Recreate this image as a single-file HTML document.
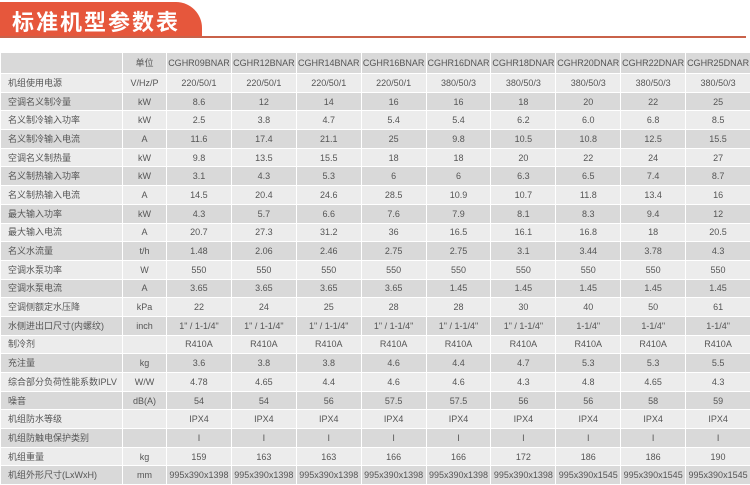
<!DOCTYPE html>
<html><head><meta charset="utf-8"><style>
body{margin:0;width:750px;height:485px;background:#fff;overflow:hidden;position:relative;font-family:"Liberation Sans","Noto Sans CJK SC",sans-serif;}
.ban{position:absolute;left:0;top:2px;width:202px;height:35px;background:#e6573c;border-top-right-radius:26px;}
.ban span{position:absolute;left:12px;top:3px;color:#fff;font-size:22px;font-weight:bold;letter-spacing:2px;font-family:"Noto Sans CJK SC",sans-serif;}
.line{position:absolute;left:0;top:36px;width:746px;height:2px;background:#c9624a;}
table{position:absolute;left:0;top:52px;width:750px;border-collapse:collapse;table-layout:fixed;}
tr{height:18.7px;}
tr.h{height:21px;}
td{border:1px solid #fff;font-size:9px;line-height:10px;color:#555;text-align:center;padding:0;white-space:nowrap;overflow:hidden;box-sizing:border-box;}
td:first-child{text-align:left;padding-left:7px;}
tr.h td{background:#d6d6d6;}
tr:nth-child(even) td{background:#ececec;}
tr:nth-child(odd) td{background:#d9d9d9;}
</style></head><body>
<div class="ban"><span>标准机型参数表</span></div>
<div class="line"></div>
<table>
<colgroup><col style="width:122px"><col style="width:44px"><col span="9" style="width:64.9px"></colgroup>
<tr class="h"><td></td><td>单位</td><td>CGHR09BNAR</td><td>CGHR12BNAR</td><td>CGHR14BNAR</td><td>CGHR16BNAR</td><td>CGHR16DNAR</td><td>CGHR18DNAR</td><td>CGHR20DNAR</td><td>CGHR22DNAR</td><td>CGHR25DNAR</td></tr>
<tr><td>机组使用电源</td><td>V/Hz/P</td><td>220/50/1</td><td>220/50/1</td><td>220/50/1</td><td>220/50/1</td><td>380/50/3</td><td>380/50/3</td><td>380/50/3</td><td>380/50/3</td><td>380/50/3</td></tr>
<tr><td>空调名义制冷量</td><td>kW</td><td>8.6</td><td>12</td><td>14</td><td>16</td><td>16</td><td>18</td><td>20</td><td>22</td><td>25</td></tr>
<tr><td>名义制冷输入功率</td><td>kW</td><td>2.5</td><td>3.8</td><td>4.7</td><td>5.4</td><td>5.4</td><td>6.2</td><td>6.0</td><td>6.8</td><td>8.5</td></tr>
<tr><td>名义制冷输入电流</td><td>A</td><td>11.6</td><td>17.4</td><td>21.1</td><td>25</td><td>9.8</td><td>10.5</td><td>10.8</td><td>12.5</td><td>15.5</td></tr>
<tr><td>空调名义制热量</td><td>kW</td><td>9.8</td><td>13.5</td><td>15.5</td><td>18</td><td>18</td><td>20</td><td>22</td><td>24</td><td>27</td></tr>
<tr><td>名义制热输入功率</td><td>kW</td><td>3.1</td><td>4.3</td><td>5.3</td><td>6</td><td>6</td><td>6.3</td><td>6.5</td><td>7.4</td><td>8.7</td></tr>
<tr><td>名义制热输入电流</td><td>A</td><td>14.5</td><td>20.4</td><td>24.6</td><td>28.5</td><td>10.9</td><td>10.7</td><td>11.8</td><td>13.4</td><td>16</td></tr>
<tr><td>最大输入功率</td><td>kW</td><td>4.3</td><td>5.7</td><td>6.6</td><td>7.6</td><td>7.9</td><td>8.1</td><td>8.3</td><td>9.4</td><td>12</td></tr>
<tr><td>最大输入电流</td><td>A</td><td>20.7</td><td>27.3</td><td>31.2</td><td>36</td><td>16.5</td><td>16.1</td><td>16.8</td><td>18</td><td>20.5</td></tr>
<tr><td>名义水流量</td><td>t/h</td><td>1.48</td><td>2.06</td><td>2.46</td><td>2.75</td><td>2.75</td><td>3.1</td><td>3.44</td><td>3.78</td><td>4.3</td></tr>
<tr><td>空调水泵功率</td><td>W</td><td>550</td><td>550</td><td>550</td><td>550</td><td>550</td><td>550</td><td>550</td><td>550</td><td>550</td></tr>
<tr><td>空调水泵电流</td><td>A</td><td>3.65</td><td>3.65</td><td>3.65</td><td>3.65</td><td>1.45</td><td>1.45</td><td>1.45</td><td>1.45</td><td>1.45</td></tr>
<tr><td>空调侧额定水压降</td><td>kPa</td><td>22</td><td>24</td><td>25</td><td>28</td><td>28</td><td>30</td><td>40</td><td>50</td><td>61</td></tr>
<tr><td>水侧进出口尺寸(内螺纹)</td><td>inch</td><td>1" / 1-1/4"</td><td>1" / 1-1/4"</td><td>1" / 1-1/4"</td><td>1" / 1-1/4"</td><td>1" / 1-1/4"</td><td>1" / 1-1/4"</td><td>1-1/4"</td><td>1-1/4"</td><td>1-1/4"</td></tr>
<tr><td>制冷剂</td><td></td><td>R410A</td><td>R410A</td><td>R410A</td><td>R410A</td><td>R410A</td><td>R410A</td><td>R410A</td><td>R410A</td><td>R410A</td></tr>
<tr><td>充注量</td><td>kg</td><td>3.6</td><td>3.8</td><td>3.8</td><td>4.6</td><td>4.4</td><td>4.7</td><td>5.3</td><td>5.3</td><td>5.5</td></tr>
<tr><td>综合部分负荷性能系数IPLV</td><td>W/W</td><td>4.78</td><td>4.65</td><td>4.4</td><td>4.6</td><td>4.6</td><td>4.3</td><td>4.8</td><td>4.65</td><td>4.3</td></tr>
<tr><td>噪音</td><td>dB(A)</td><td>54</td><td>54</td><td>56</td><td>57.5</td><td>57.5</td><td>56</td><td>56</td><td>58</td><td>59</td></tr>
<tr><td>机组防水等级</td><td></td><td>IPX4</td><td>IPX4</td><td>IPX4</td><td>IPX4</td><td>IPX4</td><td>IPX4</td><td>IPX4</td><td>IPX4</td><td>IPX4</td></tr>
<tr><td>机组防触电保护类别</td><td></td><td>I</td><td>I</td><td>I</td><td>I</td><td>I</td><td>I</td><td>I</td><td>I</td><td>I</td></tr>
<tr><td>机组重量</td><td>kg</td><td>159</td><td>163</td><td>163</td><td>166</td><td>166</td><td>172</td><td>186</td><td>186</td><td>190</td></tr>
<tr><td>机组外形尺寸(LxWxH)</td><td>mm</td><td>995x390x1398</td><td>995x390x1398</td><td>995x390x1398</td><td>995x390x1398</td><td>995x390x1398</td><td>995x390x1398</td><td>995x390x1545</td><td>995x390x1545</td><td>995x390x1545</td></tr>
</table>
</body></html>
